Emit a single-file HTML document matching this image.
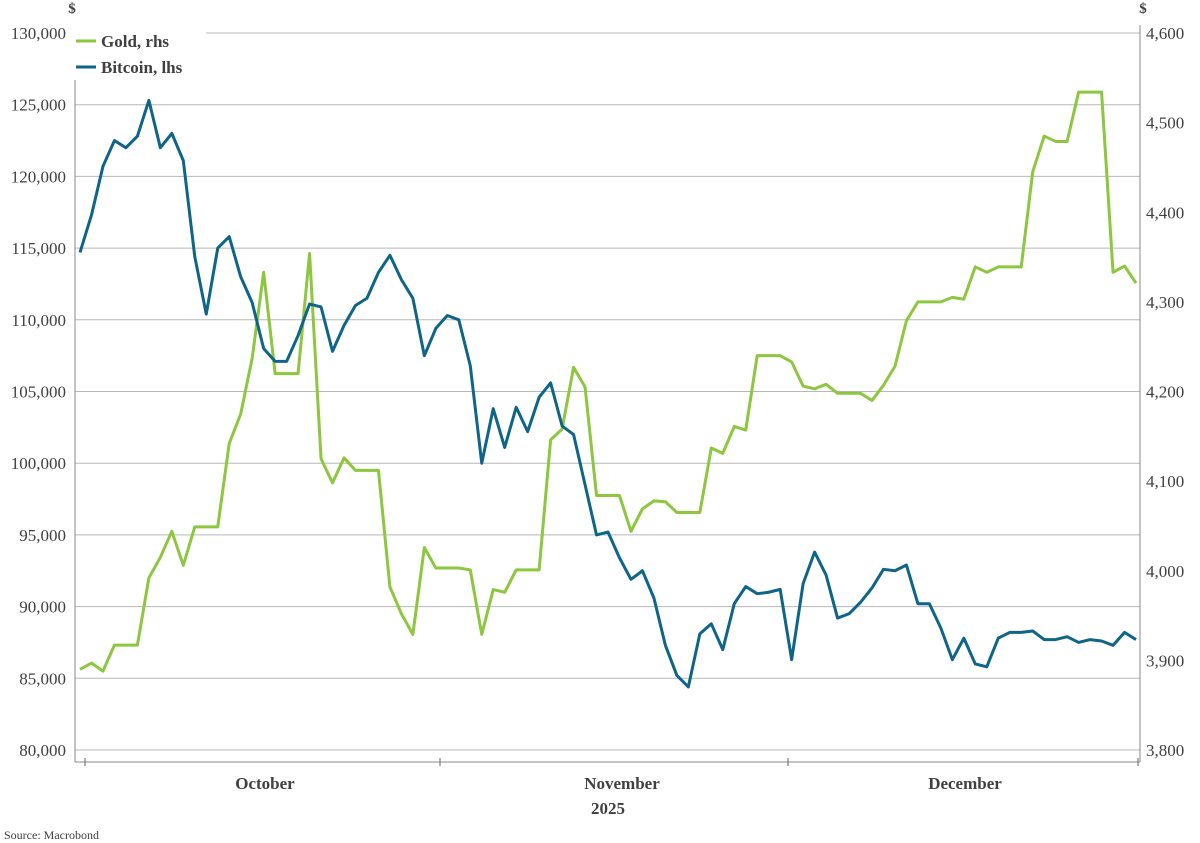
<!DOCTYPE html>
<html><head><meta charset="utf-8">
<style>
html,body{margin:0;padding:0;background:#fff;}
svg{display:block;font-family:"Liberation Serif",serif;}
</style></head>
<body>
<svg id="chart" width="1200" height="843" viewBox="0 0 1200 843" xmlns="http://www.w3.org/2000/svg"></svg>
<script>
const leftTicks=[80000,85000,90000,95000,100000,105000,110000,115000,120000,125000,130000];
const rightTicks=[3800,3900,4000,4100,4200,4300,4400,4500,4600];
const monthLabels=["October","November","December"];
const yearLabel="2025";
const bitcoin=[114700,117300,120700,122500,122000,122800,125300,122000,123000,121100,114400,110400,115000,115800,113000,111200,108000,107100,107100,108900,111100,110900,107800,109600,111000,111500,113300,114500,112800,111500,107500,109400,110300,110000,106800,100000,103800,101100,103900,102200,104600,105600,102600,102000,98500,95000,95200,93400,91900,92500,90600,87300,85200,84400,88100,88800,87000,90200,91400,90900,91000,91200,86300,91600,93800,92200,89200,89500,90300,91300,92600,92500,92900,90200,90200,88500,86300,87800,86000,85800,87800,88200,88200,88300,87700,87700,87900,87500,87700,87600,87300,88200,87700];
const gold=[3890,3897,3888,3917,3917,3917,3992,4015,4044,4006,4049,4049,4049,4142,4175,4237,4333,4220,4220,4220,4354,4125,4098,4126,4112,4112,4112,3982,3952,3929,4026,4003,4003,4003,4001,3929,3979,3976,4001,4001,4001,4146,4158,4227,4205,4084,4084,4084,4044,4069,4078,4077,4065,4065,4065,4137,4131,4161,4157,4240,4240,4240,4233,4206,4203,4208,4198,4198,4198,4190,4207,4228,4279,4300,4300,4300,4305,4303,4339,4333,4339,4339,4339,4445,4485,4479,4479,4534,4534,4534,4333,4340,4321];

const svg=document.getElementById('chart');
const NS='http://www.w3.org/2000/svg';
const PL=75,PR=1140,PT=33,PB=750,AXY=762;
const yL=v=>PT+(130000-v)/50000*(PB-PT);
const yR=v=>PT+(4600-v)/800*(PB-PT);
const X0=80,X1=1136;
const xI=(i,n)=>X0+i*(X1-X0)/(n-1);
function mk(tag,attrs,parent){const e=document.createElementNS(NS,tag);for(const k in attrs)e.setAttribute(k,attrs[k]);(parent||svg).appendChild(e);return e;}
function fmt(v){return v.toLocaleString('en-US');}

leftTicks.forEach(v=>{
  const g=mk('line',{x1:PL,x2:PR,y1:yL(v),y2:yL(v),stroke:'#b8b8b8','stroke-width':1});
  
  
  const t=mk('text',{x:66,y:yL(v)+6,'text-anchor':'end','font-size':17,fill:'#404040'});
  
  
  t.textContent=fmt(v);
});
rightTicks.forEach(v=>{
  const t=mk('text',{x:1146,y:yR(v)+6,'font-size':17,fill:'#404040'});
  
  
  t.textContent=fmt(v);
});
[[PL,'left-axis-line'],[PR,'right-axis-line']].forEach(([x,n])=>{
  const l=mk('line',{x1:x,x2:x,y1:PT-8,y2:AXY,stroke:'#888','stroke-width':1});
  
  
});
const ax=mk('line',{x1:PL,x2:PR,y1:AXY,y2:AXY,stroke:'#888','stroke-width':1});


[85,440,788,1138].forEach(x=>{
  const l=mk('line',{x1:x,x2:x,y1:AXY-4,y2:AXY+4,stroke:'#666','stroke-width':1});
  
  
});
[265,622,965].forEach((x,i)=>{
  const t=mk('text',{x:x,y:789,'text-anchor':'middle','font-size':17,'font-weight':'bold',fill:'#404040'});
  
  
  t.textContent=monthLabels[i];
});
const yr=mk('text',{x:608,y:814,'text-anchor':'middle','font-size':17,'font-weight':'bold',fill:'#404040'});


yr.textContent=yearLabel;
[[72,'left-axis-unit'],[1143,'right-axis-unit']].forEach(([x,n])=>{
  const t=mk('text',{x:x,y:13,'text-anchor':'middle','font-size':15,'font-weight':'bold',fill:'#404040'});
  
  
  t.textContent='$';
});
const src=mk('text',{x:4,y:839,'font-size':12,fill:'#404040'});


src.textContent='Source: Macrobond';

const gp=mk('polyline',{points:gold.map((v,i)=>xI(i,gold.length)+','+yR(v)).join(' '),fill:'none',stroke:'#8dc63f','stroke-width':3,'stroke-linejoin':'round'});


const bp=mk('polyline',{points:bitcoin.map((v,i)=>xI(i,bitcoin.length)+','+yL(v)).join(' '),fill:'none',stroke:'#0f6587','stroke-width':3,'stroke-linejoin':'round'});



const lg=mk('g',{});


mk('rect',{x:70,y:25,width:136,height:55,fill:'#fff'},lg);
[['Gold, rhs','#8dc63f',41,'legend-entry-gold'],['Bitcoin, lhs','#0f6587',67,'legend-entry-bitcoin']].forEach(([lab,c,y,n])=>{
  const g=mk('g',{},lg);
  
  
  mk('line',{x1:76,x2:96,y1:y,y2:y,stroke:c,'stroke-width':3},g);
  const t=mk('text',{x:101,y:y+6,'font-size':17,'font-weight':'bold',fill:'#404040'},g);
  t.textContent=lab;
});
</script>
</body></html>
